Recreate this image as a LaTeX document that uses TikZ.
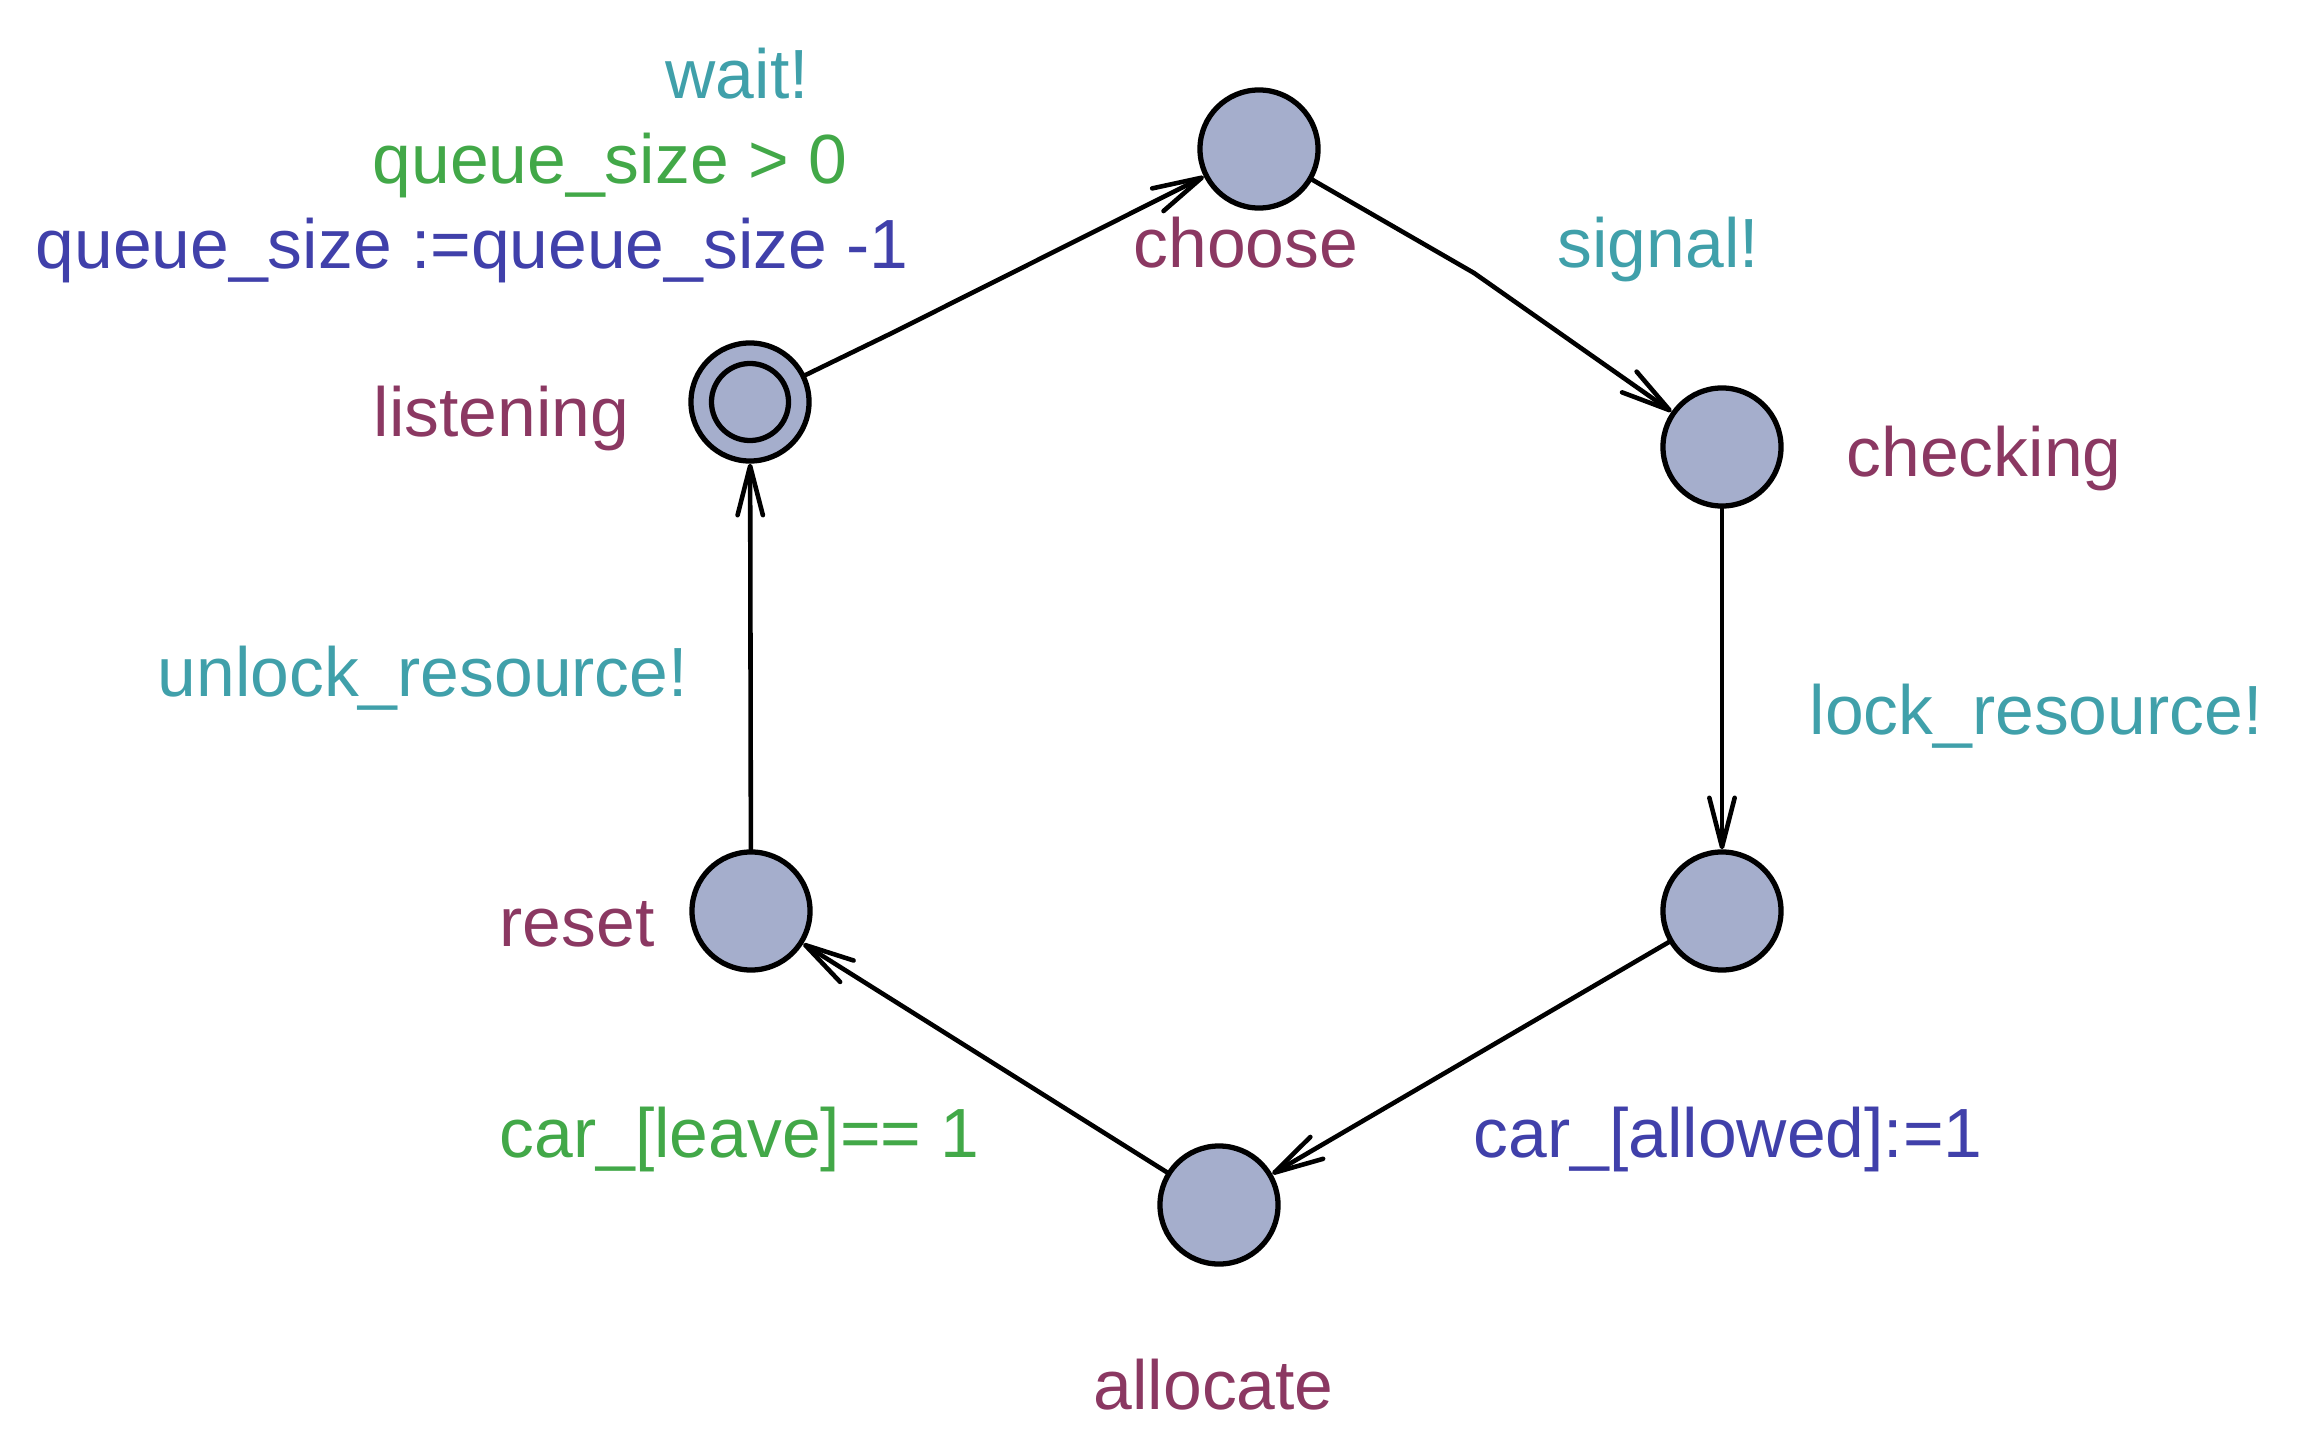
\documentclass[tikz,border=0pt]{standalone}
\usepackage{fontspec}
\setmainfont{Liberation Sans}
\usetikzlibrary{arrows.meta}
\definecolor{locfill}{RGB}{165,174,204}
\definecolor{locname}{RGB}{139,56,98}
\definecolor{synccol}{RGB}{64,160,170}
\definecolor{guardcol}{RGB}{66,168,72}
\definecolor{updcol}{RGB}{64,64,170}
\tikzset{
  loc/.style={circle, draw=black, fill=locfill, line width=1.5pt, minimum size=1.18cm, inner sep=0pt},
  lbl/.style={anchor=base west, inner sep=0pt, font=\fontsize{19.8}{23}\selectfont},
  namelbl/.style={lbl, text=locname},
  synclbl/.style={lbl, text=synccol},
  guardlbl/.style={lbl, text=guardcol},
  updlbl/.style={lbl, text=updcol},
  edge/.style={line width=1.3pt, line cap=round, line join=round, -{Straight Barb[length=14pt,width=7.2pt,round]}}
}
\begin{document}
\begin{tikzpicture}[x=0.01cm, y=-0.01cm]
\useasboundingbox (0,0) rectangle (2300,1452);
% locations
\node[loc] (listening) at (750,402) {};
\draw[line width=1.5pt] (listening.center) circle[radius=0.385cm];
\node[loc] (choose) at (1259,149) {};
\node[loc] (checking) at (1722,447) {};
\node[loc] (lock) at (1722,911) {};
\node[loc] (allocate) at (1219,1205) {};
\node[loc] (reset) at (751,911) {};
% nails
\coordinate (n1) at (892,333);
\coordinate (n2) at (1474,273);
% edges
\draw[edge] (listening) -- (n1) -- (choose);
\draw[edge] (choose) -- (n2) -- (checking);
\draw[edge] (checking) -- (lock);
\draw[edge] (lock) -- (allocate);
\draw[edge] (allocate) -- (reset);
\draw[edge] (reset) -- (listening);
% labels
\node[synclbl] (t1) at (665,99) {wait!};
\node[guardlbl] (t2) at (372,184) {queue\_size > 0};
\node[updlbl] (t3) at (35,269) {queue\_size :=queue\_size -1};
\node[namelbl] (t4) at (373,437) {listening};
\node[namelbl] (t5) at (1133,268) {choose};
\node[synclbl] (t6) at (1557,268) {signal!};
\node[namelbl] (t7) at (1846,477) {checking};
\node[synclbl] (t8) at (1809,734) {lock\_resource!};
\node[synclbl] (t9) at (157,696) {unlock\_resource!};
\node[namelbl] (t10) at (499,946) {reset};
\node[guardlbl] (t11) at (499,1157) {car\_[leave]== 1};
\node[updlbl] (t12) at (1473,1157) {car\_[allowed]:=1};
\node[namelbl] (t13) at (1093,1409) {allocate};
\end{tikzpicture}
\end{document}
